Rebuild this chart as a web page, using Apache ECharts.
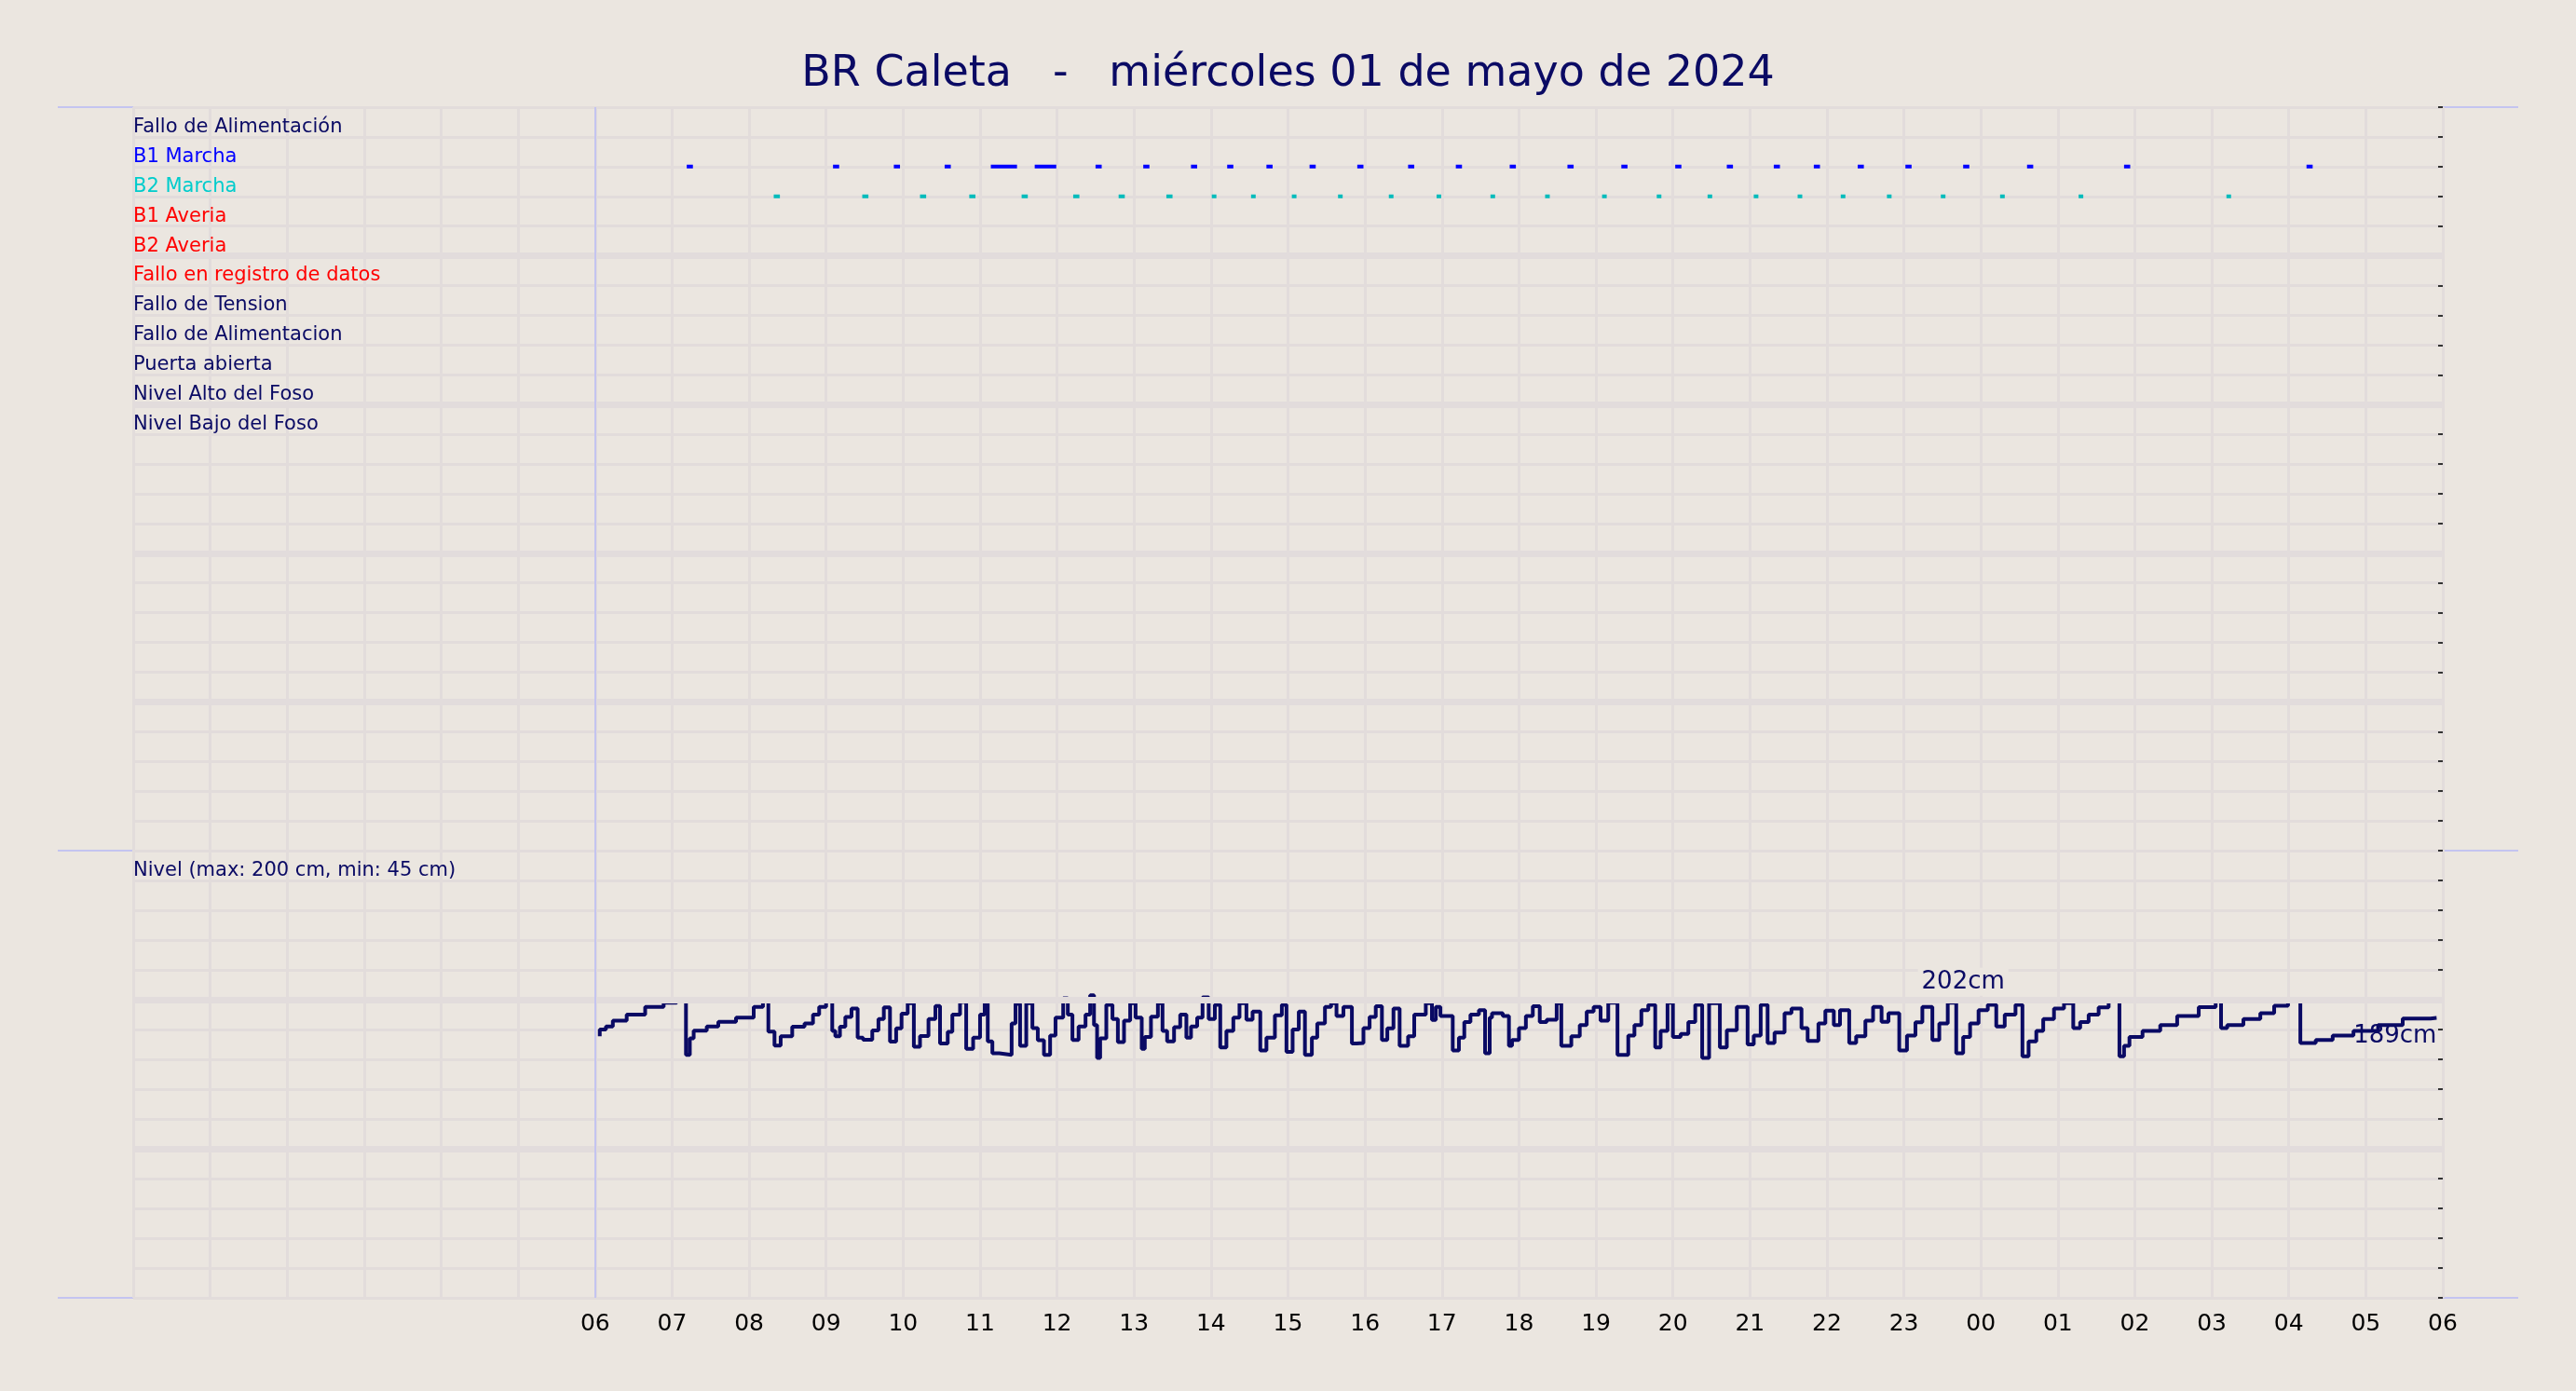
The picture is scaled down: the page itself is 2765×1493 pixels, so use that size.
<!DOCTYPE html>
<html><head><meta charset="utf-8">
<script src="https://cdn.jsdelivr.net/npm/echarts@6/dist/echarts.min.js"></script>
<style>html,body{margin:0;padding:0;background:#ebe6e0}#c{width:2765px;height:1493px}</style>
</head><body><div id="c"></div>
<script>
const title = 'BR Caleta   -   miércoles 01 de mayo de 2024';
const rowNames = ['Fallo de Alimentación','B1 Marcha','B2 Marcha','B1 Averia','B2 Averia','Fallo en registro de datos','Fallo de Tension','Fallo de Alimentacion','Puerta abierta','Nivel Alto del Foso','Nivel Bajo del Foso'];
const rowColors = ['#0a0a64','#0000ff','#00cccc','#ff0000','#ff0000','#ff0000','#0a0a64','#0a0a64','#0a0a64','#0a0a64','#0a0a64'];
const levelLabel = 'Nivel (max: 200 cm, min: 45 cm)';
// B1 / B2 running intervals [start hour, end hour] (hours from 00:00)
const b1Runs = [[7.19,7.27],[9.09,9.17],[9.88,9.96],[10.54,10.62],[11.14,11.48],[11.71,11.99],[12.5,12.58],[13.12,13.2],[13.74,13.82],[14.21,14.29],[14.72,14.8],[15.28,15.36],[15.9,15.98],[16.56,16.64],[17.18,17.26],[17.88,17.96],[18.63,18.71],[19.33,19.41],[20.03,20.11],[20.7,20.78],[21.31,21.39],[21.83,21.91],[22.4,22.48],[23.02,23.1],[23.77,23.85],[24.6,24.68],[25.86,25.94],[28.23,28.31]];
const b2Runs = [[8.32,8.4],[9.47,9.55],[10.22,10.3],[10.86,10.94],[11.54,11.62],[12.21,12.29],[12.8,12.88],[13.42,13.5],[14.01,14.07],[14.52,14.58],[15.05,15.11],[15.65,15.71],[16.31,16.37],[16.93,16.99],[17.63,17.69],[18.34,18.4],[19.08,19.14],[19.79,19.85],[20.45,20.51],[21.05,21.11],[21.62,21.68],[22.18,22.24],[22.78,22.84],[23.48,23.54],[24.25,24.31],[25.27,25.33],[27.19,27.25]];
const levelTimes = [6.06,6.14,6.23,6.41,6.65,6.89,7.06,7.18,7.23,7.28,7.45,7.6,7.83,8.06,8.18,8.25,8.33,8.41,8.56,8.72,8.83,8.91,9.0,9.08,9.12,9.18,9.25,9.33,9.41,9.48,9.6,9.68,9.75,9.83,9.91,9.98,10.06,10.14,10.22,10.33,10.42,10.48,10.58,10.64,10.74,10.82,10.91,11.0,11.06,11.1,11.16,11.25,11.41,11.46,11.52,11.6,11.68,11.75,11.83,11.91,11.98,12.08,12.14,12.2,12.28,12.37,12.43,12.48,12.52,12.56,12.64,12.72,12.79,12.87,12.95,13.02,13.1,13.14,13.22,13.31,13.37,13.43,13.52,13.6,13.68,13.74,13.82,13.89,13.97,14.05,14.12,14.2,14.29,14.37,14.46,14.54,14.64,14.72,14.83,14.92,14.98,15.06,15.14,15.22,15.31,15.38,15.48,15.56,15.63,15.72,15.83,15.89,15.98,16.06,16.14,16.22,16.29,16.37,16.45,16.56,16.64,16.79,16.87,16.92,16.98,17.14,17.22,17.29,17.37,17.48,17.56,17.62,17.65,17.79,17.87,17.91,18.0,18.09,18.18,18.27,18.36,18.49,18.55,18.68,18.79,18.88,18.97,19.06,19.16,19.28,19.42,19.5,19.59,19.68,19.77,19.84,19.93,20.0,20.1,20.2,20.29,20.38,20.47,20.61,20.7,20.83,20.97,21.05,21.14,21.23,21.32,21.45,21.54,21.67,21.75,21.89,21.98,22.09,22.17,22.29,22.38,22.5,22.6,22.71,22.8,22.94,23.04,23.15,23.24,23.37,23.46,23.57,23.68,23.77,23.86,23.97,24.09,24.2,24.31,24.45,24.54,24.62,24.72,24.81,24.95,25.08,25.2,25.29,25.4,25.53,25.66,25.8,25.86,25.93,26.1,26.33,26.55,26.83,27.05,27.12,27.2,27.41,27.63,27.81,27.99,28.15,28.21,28.35,28.57,28.84,29.16,29.48,29.84,29.92];
const levelValues = [187.7,190,191,193,195,197.6,199,199.7,181.5,187,189.6,191,192.6,194,197.6,199.4,189.3,184.6,187.7,190.9,192,195,197.6,199.7,189.5,187.7,190.9,194.2,197,187.3,186.6,189.7,193.5,197.4,185.9,190.4,195.3,198.8,184.2,187.8,193.5,197.9,185.3,189.2,195,199.2,183.5,187.3,195,199,186,182,181.5,192,198.6,184.5,198.8,190.5,186.4,181.5,188,194,200.5,195,186.5,191,195,201.5,191.5,180.5,187,198.3,193.5,185.8,193,198.8,194,183.5,187.5,194.3,198.8,189.5,186,190.8,195,187.3,191,194,200.8,193.5,198.3,184,189.5,194,198.8,193.3,196,183,187.3,194.8,198.3,182.5,190,196,181.5,187.3,192,197.6,198.8,194.5,197.6,185.3,185.5,190.5,194.2,197.8,186.5,190.4,197,184.5,187.7,195,198.8,193.2,197.6,194.5,183,187.3,192.5,195,196.5,182,194,195.5,194.5,184.5,186.5,190.5,194.5,197.8,192.5,193.3,198.8,184.5,187.7,191.5,196,197.6,193,199,181.5,188,191.5,196.5,198.3,184,189.5,199,187.5,188.5,192.5,198.3,180.5,198.8,184,189.8,197.6,185,188,198.3,185.5,189,195.5,197,190.5,186.2,192,196.3,191.5,196.5,185.5,187.7,193,197.6,192.6,195.5,183,188,192.4,197.6,186.5,192,199,182,187.5,192,196.5,198.3,191,195,198.3,181,186,189.5,193.5,197,198.8,190.5,192.5,195,197.4,199.5,181,184.5,187.5,189.5,191.5,194.5,197.5,200.3,190.5,191.5,193.5,195.5,198,199.8,185.5,185.5,186.5,188,189.5,191.5,193.7,193.9];
const maxLabel = {t:23.77, v:206, text:'202cm'};
const lastLabel = {t:29.38, v:187.7, text:'189cm'};

const navy = '#0a0a64', grid = '#e2dcdb', font = 'DejaVu Sans';
function runsToData(runs,row){const d=[];runs.forEach(r=>{d.push([r[0],row],[r[1],row],'-');});return d;}
const pad = n => (n<10?'0':'')+n;

const chart = echarts.init(document.getElementById('c'));
const xBase = {type:'value',min:0,max:30,interval:1,axisLine:{show:false},axisTick:{show:false},
  splitLine:{show:true,lineStyle:{color:grid,width:3}}};
const thick = v => ({yAxis:v});
chart.setOption({
  backgroundColor:'#ebe6e0',
  animation:false,
  title:{text:title,left:'center',top:52,textStyle:{fontFamily:font,fontSize:46,fontWeight:'normal',color:navy}},
  grid:[{left:143,right:143,top:115,height:798},{left:143,right:143,top:913,height:480}],
  xAxis:[
    Object.assign({gridIndex:0,axisLabel:{show:false}},xBase),
    Object.assign({gridIndex:1,axisLabel:{fontFamily:font,fontSize:25,color:'#000',margin:16,
      formatter:v=>v>=6?pad(v%24):''}},xBase)
  ],
  yAxis:[
    {gridIndex:0,type:'value',min:0,max:25,interval:1,inverse:true,axisLine:{show:false},axisTick:{show:false},
     splitLine:{show:true,lineStyle:{color:grid,width:3}},
     axisLabel:{inside:true,align:'left',verticalAlign:'bottom',margin:0,fontFamily:font,fontSize:21,
       formatter:v=>(v>=1&&v<=rowNames.length)?('{r'+v+'|'+rowNames[v-1]+'}'):'',
       rich:Object.fromEntries(rowColors.map((c,i)=>['r'+(i+1),{color:c,fontFamily:font,fontSize:21}]))}},
    {gridIndex:0,type:'value',min:0,max:25,interval:1,inverse:true,position:'right',axisLine:{show:false},
     axisTick:{show:true,inside:true,length:5,lineStyle:{color:'#333',width:2}},axisLabel:{show:false},splitLine:{show:false}},
    {gridIndex:1,type:'value',min:100,max:250,interval:10,axisLine:{show:false},axisTick:{show:false},
     splitLine:{show:true,lineStyle:{color:grid,width:3}},
     axisLabel:{inside:true,align:'left',verticalAlign:'bottom',margin:0,fontFamily:font,fontSize:21,color:navy,
       formatter:v=>v===240?levelLabel:''}},
    {gridIndex:1,type:'value',min:100,max:250,interval:10,position:'right',axisLine:{show:false},
     axisTick:{show:true,inside:true,length:5,lineStyle:{color:'#333',width:2}},axisLabel:{show:false},splitLine:{show:false}}
  ],
  graphic:[115,913,1393].map(y=>({type:'line',shape:{x1:62,y1:y,x2:2703,y2:y},style:{stroke:'#c4c4f0',lineWidth:2}})),
  series:[
    {type:'line',xAxisIndex:0,yAxisIndex:0,data:[],silent:true,
     markLine:{silent:true,symbol:'none',label:{show:false},lineStyle:{color:'#e2dcdc',width:7,type:'solid'},data:[5,10,15,20].map(thick)}},
    {type:'line',xAxisIndex:0,yAxisIndex:0,data:[],silent:true,
     markLine:{silent:true,symbol:'none',label:{show:false},lineStyle:{color:'#c4c4f0',width:2,type:'solid'},data:[{xAxis:6}]}},
    {type:'line',xAxisIndex:0,yAxisIndex:0,symbol:'none',data:runsToData(b1Runs,2),lineStyle:{color:'#0000ff',width:4}},
    {type:'line',xAxisIndex:0,yAxisIndex:0,symbol:'none',data:runsToData(b2Runs,3),lineStyle:{color:'#00bbbb',width:4}},
    {type:'line',xAxisIndex:1,yAxisIndex:2,data:[],silent:true,
     markLine:{silent:true,symbol:'none',label:{show:false},lineStyle:{color:'#e2dcdc',width:7,type:'solid'},data:[200,150].map(thick)}},
    {type:'line',xAxisIndex:1,yAxisIndex:2,data:[],silent:true,
     markLine:{silent:true,symbol:'none',label:{show:false},lineStyle:{color:'#c4c4f0',width:2,type:'solid'},data:[{xAxis:6}]}},
    {type:'line',xAxisIndex:1,yAxisIndex:2,symbol:'none',step:'start',
     data:levelTimes.map((t,i)=>[t,levelValues[i]]),lineStyle:{color:navy,width:4},
     markPoint:{symbol:'rect',symbolSize:1,itemStyle:{color:'rgba(0,0,0,0)'},
       label:{show:true,position:'inside',fontFamily:font,fontSize:26,color:navy,formatter:p=>p.name},
       data:[{name:maxLabel.text,coord:[maxLabel.t,maxLabel.v],label:{backgroundColor:'#ebe6e0',padding:[2,4]}},
             {name:lastLabel.text,coord:[lastLabel.t,lastLabel.v]}]}}
  ]
});
</script></body></html>
